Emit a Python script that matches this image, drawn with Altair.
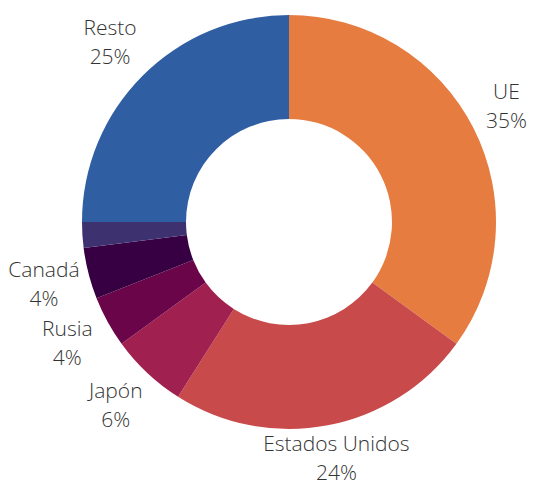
import altair as alt
import pandas as pd

categorias = ["UE", "Estados Unidos", "Japón", "Rusia", "Canadá", "Otros", "Resto"]
valores = [35, 24, 6, 4, 4, 2, 25]
etiquetas = ["UE\n35%", "Estados Unidos\n24%", "Japón\n6%", "Rusia\n4%", "Canadá\n4%", "", "Resto\n25%"]
colores = ["#E67C3F", "#C94A4A", "#A0214F", "#6B0549", "#360042", "#3D3170", "#2F5EA3"]

df = pd.DataFrame({
    "categoria": categorias,
    "valor": valores,
    "etiqueta": etiquetas,
    "orden": list(range(len(categorias))),
})

cx, cy = 281, 214

base = alt.Chart(df).encode(
    theta=alt.Theta("valor:Q", stack=True),
    order=alt.Order("orden:Q"),
)

arcs = base.mark_arc(outerRadius=207, innerRadius=103, x=cx, y=cy, stroke=None).encode(
    color=alt.Color("categoria:N", scale=alt.Scale(domain=categorias, range=colores), legend=None),
)

text_style = dict(
    radius=253, x=cx, y=cy, lineBreak="\n", font="Open Sans", fontWeight=300,
    fontSize=21, lineHeight=29, color="#333333", align="center", baseline="middle",
)

# general labels
labels = base.mark_text(dy=-14, **text_style).encode(
    text=alt.condition(
        "datum.categoria != 'UE' && datum.categoria != 'Estados Unidos'",
        alt.Text("etiqueta:N"), alt.value(""),
    )
)
# outer labels nudged to stay inside the drawing area
label_ue = base.mark_text(dy=-14, dx=-8, **text_style).encode(
    text=alt.condition("datum.categoria == 'UE'", alt.Text("etiqueta:N"), alt.value(""))
)
label_us = base.mark_text(dy=-26, **text_style).encode(
    text=alt.condition("datum.categoria == 'Estados Unidos'", alt.Text("etiqueta:N"), alt.value(""))
)

chart = (arcs + labels + label_ue + label_us).properties(
    width=521, height=477, padding=0, autosize=alt.AutoSizeParams(type="none")
).configure_view(stroke=None)

chart.save("out.html", embed_options={"renderer": "svg", "actions": False})
